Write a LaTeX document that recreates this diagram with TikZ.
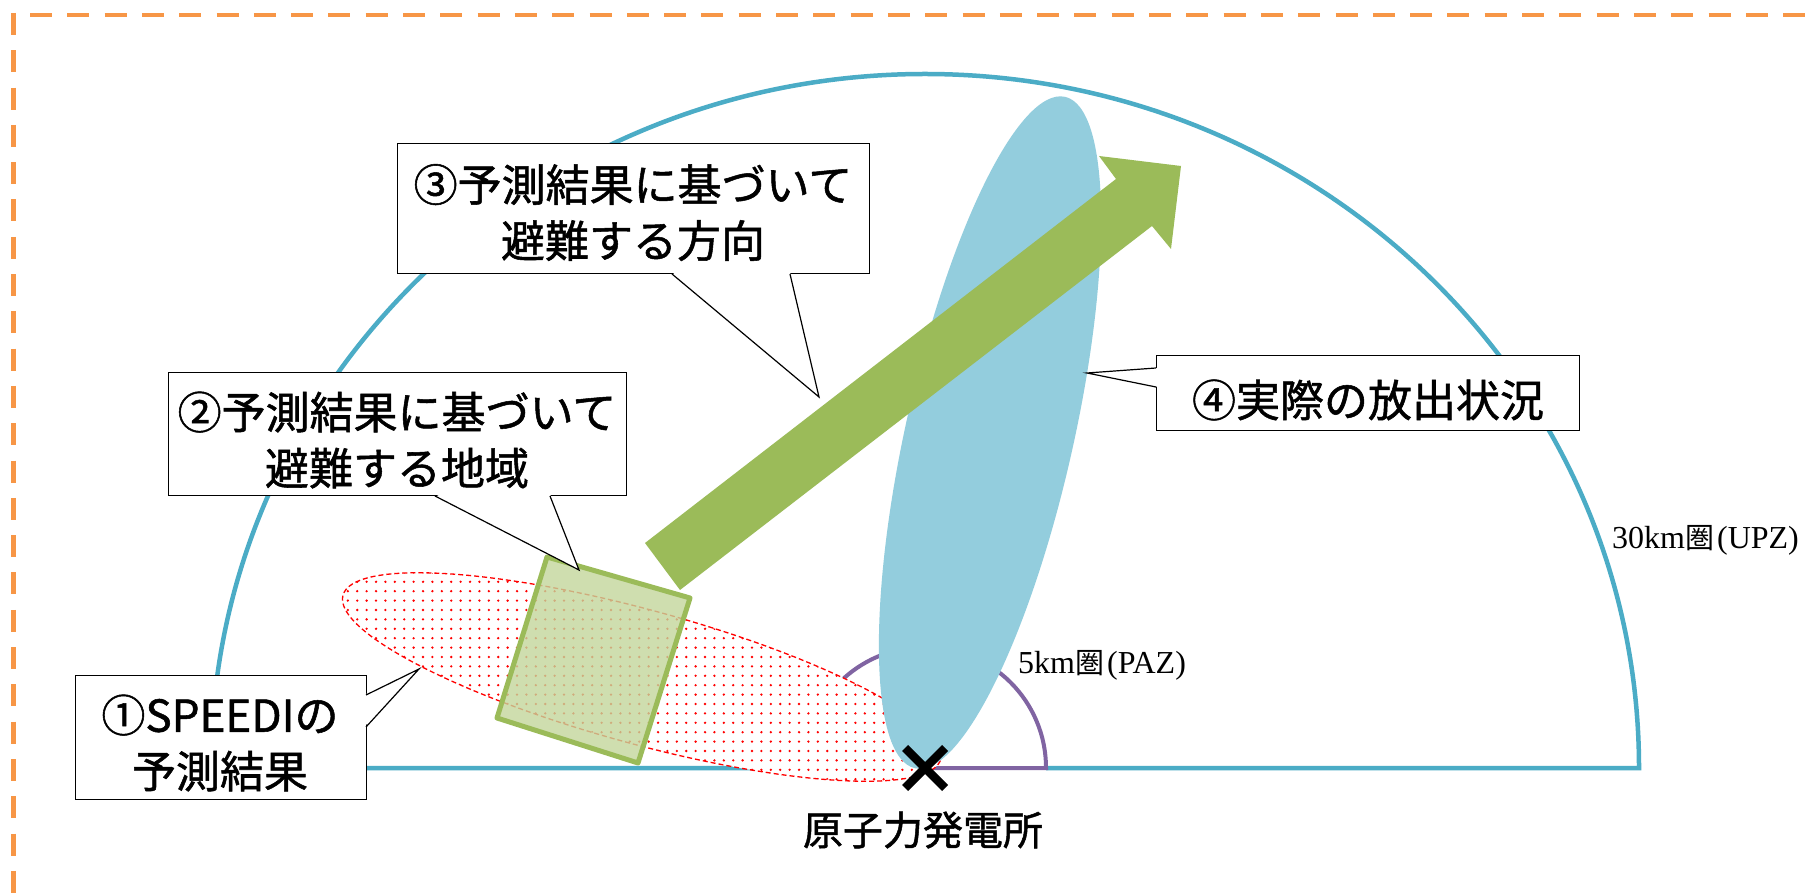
\documentclass[tikz,border=0pt]{standalone}
\usepackage{fontspec}
\newfontfamily\jp{Noto Sans CJK JP}[FakeBold=1.2]
\newfontfamily\jplight{Noto Sans CJK JP}
\newfontfamily\lserif{Liberation Serif}
\usetikzlibrary{patterns.meta,calc}
\definecolor{borderorange}{HTML}{F79646}
\definecolor{arcblue}{HTML}{4BACC6}
\definecolor{pazpurple}{HTML}{8064A2}
\definecolor{plumeblue}{HTML}{93CDDD}
\definecolor{arrowgreen}{HTML}{9BBB59}
\definecolor{rectgreen}{HTML}{C3D69B}
\tikzset{
  frameline/.style={draw=borderorange, line width=4.8pt, dash pattern=on 22pt off 15.3pt},
  upzline/.style={draw=arcblue, line width=4.5pt},
  pazline/.style={draw=pazpurple, line width=4pt},
  box/.style={draw=black, line width=1.3pt, fill=white, inner sep=0pt, anchor=south west},
  boxtext/.style={font=\jp\fontsize{44}{56}\selectfont, align=center, inner sep=0pt},
  pointerside/.style={draw=black, line width=1.2pt, line join=miter},
  zonelabel/.style={font=\lserif\fontsize{32}{38}\selectfont, inner sep=0pt, anchor=west},
  plantlabel/.style={font=\jp\fontsize{40}{48}\selectfont, inner sep=0pt},
}
\begin{document}
\begin{tikzpicture}[x=1pt,y=1pt]
\useasboundingbox (0,0) rectangle (1807,892);
\fill[white] (0,0) rectangle (1807,892);

% dashed frame
\draw[frameline] (13.5,879) -- (13.5,-20);
\draw[frameline] (30,877) -- (1830,877);

% 30 km zone (UPZ)
\coordinate (plant) at (925,124);
\coordinate (upzL) at (211,124);
\coordinate (upzR) at (1639,124);
\coordinate (pazR) at (1046,124);
\draw[upzline] (plant) -- (upzL) arc[start angle=180, end angle=0, x radius=714, y radius=694] -- (pazR);
% 5 km zone (PAZ)
\draw[pazline, line join=miter] (plant) -- (pazR) arc[start angle=0, end angle=180, radius=121];

% SPEEDI prediction (red dotted ellipse)
\coordinate (predc) at (642,215);
\fill[white, rotate around={-15.3:(predc)}] (predc) ellipse[x radius=310, y radius=67];
\fill[pattern={Dots[radius=1.3pt, distance=9.4pt]}, pattern color=red, rotate around={-15.3:(predc)}] (predc) ellipse[x radius=310, y radius=67];
\draw[red, line width=1.3pt, dash pattern=on 5pt off 3pt, rotate around={-15.3:(predc)}] (predc) ellipse[x radius=310, y radius=67];

% evacuation area (green rectangle)
\filldraw[fill=rectgreen, fill opacity=0.8, draw=arrowgreen, line width=5pt, line join=round]
  (547,335) -- (690,294) -- (638,129) -- (497,174) -- cycle;

% actual release plume
\coordinate (plumec) at (990,459.5);
\fill[plumeblue, rotate around={77.4:(plumec)}] (plumec) ellipse[x radius=344, y radius=84];

% evacuation direction arrow
\fill[arrowgreen] (645,349) -- (1116,713) -- (1099,736) -- (1181,726) -- (1171,643) -- (1152,666) -- (680,302) -- cycle;

% callout 3
\node[box, minimum width=472pt, minimum height=130pt] (b3) at (397,618) {};
\coordinate (p3a) at (672,618); \coordinate (p3b) at (790,618); \coordinate (p3t) at (819,495);
\fill[white] ($(p3a)+(0,2)$) -- (p3t) -- ($(p3b)+(0,2)$) -- cycle;
\draw[pointerside] (p3a) -- (p3t) -- (p3b);
\node[boxtext] (t3) at (633,679.5) {③予測結果に基づいて\\避難する方向};

% callout 2
\node[box, minimum width=458pt, minimum height=123pt] (b2) at (168,396) {};
\coordinate (p2a) at (435,396); \coordinate (p2b) at (550,396); \coordinate (p2t) at (579,322);
\fill[white] ($(p2a)+(0,2)$) -- (p2t) -- ($(p2b)+(0,2)$) -- cycle;
\draw[pointerside] (p2a) -- (p2t) -- (p2b);
\node[boxtext] (t2) at (397,452) {②予測結果に基づいて\\避難する地域};

% callout 1
\node[box, minimum width=291pt, minimum height=124pt] (b1) at (75,92) {};
\coordinate (p1a) at (366,197); \coordinate (p1b) at (366,165); \coordinate (p1t) at (419,223);
\fill[white] ($(p1a)+(-2,0)$) -- (p1t) -- ($(p1b)+(-2,0)$) -- cycle;
\draw[pointerside] (p1a) -- (p1t) -- (p1b);
\node[boxtext] (t1) at (220,149) {①SPEEDIの\\予測結果};

% callout 4
\node[box, minimum width=423pt, minimum height=75pt] (b4) at (1156,461) {};
\coordinate (p4a) at (1156,524); \coordinate (p4b) at (1156,505); \coordinate (p4t) at (1087,519);
\fill[white] ($(p4a)+(2,0)$) -- (p4t) -- ($(p4b)+(2,0)$) -- cycle;
\draw[pointerside] (p4a) -- (p4t) -- (p4b);
\node[boxtext] (t4) at (1368,492) {④実際の放出状況};

% power plant mark
\draw[line width=8.5pt] ($(plant)+(-20,-20)$) -- ($(plant)+(20,20)$);
\draw[line width=8.5pt] ($(plant)+(-20,20)$) -- ($(plant)+(20,-20)$);
\node[plantlabel] (plantname) at (923,62) {原子力発電所};

% zone labels
\node[zonelabel] (paz) at (1018,227) {5km{\jplight\fontsize{29}{34}\selectfont 圏}\kern3pt(PAZ)};
\node[zonelabel] (upz) at (1612,352) {30km{\jplight\fontsize{29}{34}\selectfont 圏}\kern3pt(UPZ)};
\end{tikzpicture}
\end{document}
